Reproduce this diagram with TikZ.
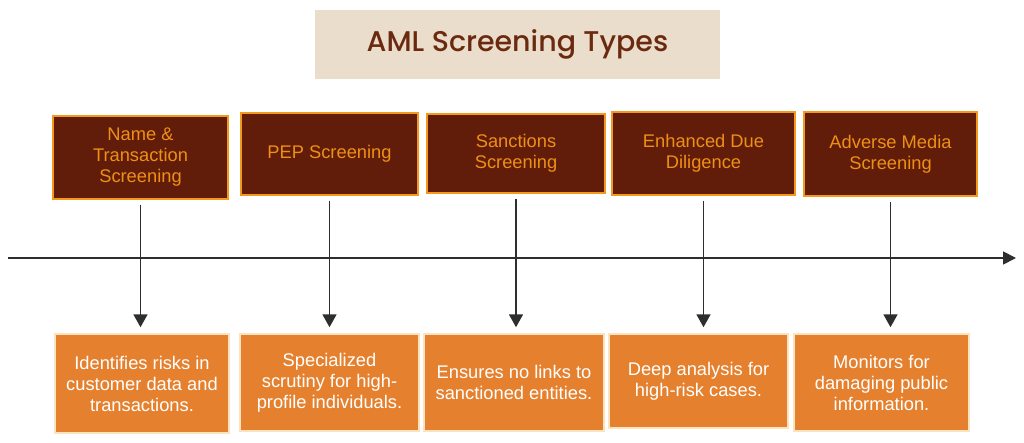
\documentclass[tikz,border=0pt]{standalone}
\usepackage{fontspec}
\setmainfont{Liberation Sans}
\newfontfamily\titlefont{Poppins}[UprightFont=* Medium]
\usetikzlibrary{arrows.meta}

\definecolor{titlebg}{HTML}{EADDCB}
\definecolor{titlefg}{HTML}{6B2A10}
\definecolor{darkbrown}{HTML}{611D0A}
\definecolor{boxorange}{HTML}{E5812E}
\definecolor{lineorange}{HTML}{F39A1E}
\definecolor{textorange}{HTML}{EE9016}
\definecolor{palerim}{HTML}{FBE3BF}
\definecolor{axisgray}{HTML}{2E2E2E}

\tikzset{
  typebox/.style={draw=lineorange, line width=1.5pt, fill=darkbrown, text=textorange,
    align=center, inner sep=0pt, font=\fontsize{18.3}{21}\selectfont},
  notebox/.style={draw=palerim, line width=1.5pt, fill=boxorange, text=white,
    align=center, inner sep=0pt, font=\fontsize{18.3}{21}\selectfont},
  flow/.style={draw=axisgray, line width=1.8pt, -{Triangle[length=13pt,width=14pt]},
    shorten <=5pt, shorten >=6pt},
}

\begin{document}
\begin{tikzpicture}[x=1pt, y=-1pt]
        \path[use as bounding box] (0,0) rectangle (1024,443);

        \node [fill=titlebg, minimum width=405pt, minimum height=69pt, text=titlefg,
          font=\titlefont\fontsize{28.5}{32}\selectfont] (title) at (517.5, 44.5) {AML Screening Types};

        \node [typebox, minimum width=175pt, minimum height=83pt] (t1) at (140.5, 157.5) {Name \&\\Transaction\\Screening};
        \node [typebox, minimum width=177pt, minimum height=82pt] (t2) at (329.5, 154) {PEP Screening};
        \node [typebox, minimum width=178pt, minimum height=79pt] (t3) at (516, 153.5) {Sanctions\\Screening};
        \node [typebox, minimum width=183pt, minimum height=83pt] (t4) at (703.5, 153.5) {Enhanced Due\\Diligence};
        \node [typebox, minimum width=173pt, minimum height=84pt] (t5) at (890.5, 154) {Adverse Media\\Screening};

        \node [notebox, minimum width=174pt, minimum height=99pt] (b1) at (142, 383.5) {Identifies risks in\\customer data and\\transactions.};
        \node [notebox, minimum width=179pt, minimum height=97pt] (b2) at (329.5, 382.5) {Specialized\\scrutiny for high-\\profile individuals.};
        \node [notebox, minimum width=180pt, minimum height=97pt] (b3) at (514, 382.5) {Ensures no links to\\sanctioned entities.};
        \node [notebox, minimum width=179pt, minimum height=94pt] (b4) at (698.5, 381) {Deep analysis for\\high-risk cases.};
        \node [notebox, minimum width=175pt, minimum height=97pt] (b5) at (881.5, 382.5) {Monitors for\\damaging public\\information.};

        % timeline
        \coordinate (axisstart) at (8, 258);
        \coordinate (axisend) at (1016, 258);
        \draw[draw=axisgray, line width=1.8pt, -{Triangle[length=13pt,width=13pt]}] (axisstart) -- (axisend);

        \foreach \i in {1,...,5}
          \draw[flow] (t\i.south) -- (t\i.south |- b\i.north);
      \end{tikzpicture}
\end{document}
